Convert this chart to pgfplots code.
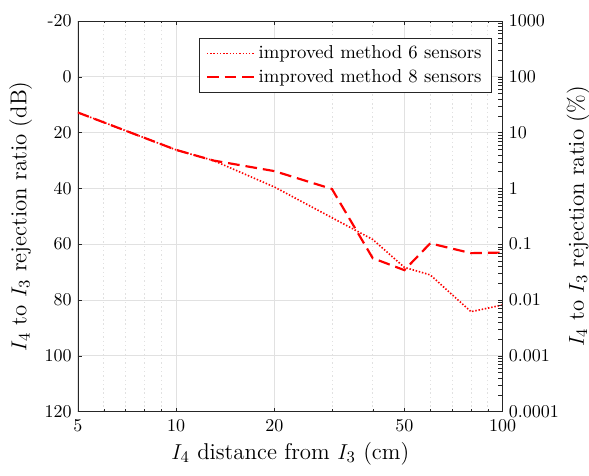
\documentclass[border=0pt]{standalone}
\usepackage{pgfplots}
\pgfplotsset{compat=1.18}
\definecolor{axc}{RGB}{38,38,38}
\definecolor{gridc}{RGB}{225,225,225}
\begin{document}
\begin{tikzpicture}
\begin{axis}[name=ax, scale only axis, width=236pt, height=217pt,
  xmode=log, xmin=5, xmax=100, ymin=-20, ymax=120, y dir=reverse,
  xtick={5,10,20,50,100}, xticklabels={5,10,20,50,100},
  minor xtick={6,7,8,9,30,40,60,70,80,90},
  ytick={-20,0,20,40,60,80,100,120},
  yticklabels={{\mbox{-}20},0,20,40,60,80,100,120},
  axis y line*=left,
  axis line style={axc}, tick style={axc},
  tick align=inside, major tick length=2.2pt, minor tick length=1.3pt,
  xmajorgrids, xminorgrids, ymajorgrids,
  major grid style={gridc, line width=0.5pt},
  minor grid style={gridc, line width=0.4pt, dash pattern=on 0.8pt off 1.6pt},
  xticklabel style={yshift=-0.8pt},
  xlabel={$I_4$ distance from $I_3$ (cm)},
  ylabel={$I_4$ to $I_3$ rejection ratio (dB)},
  label style={font=\fontsize{12.7}{15}\selectfont},
  xlabel style={yshift=1pt},
  legend style={at={(1,1)}, anchor=north east, xshift=-6pt, yshift=-9.5pt,
    draw=axc, inner ysep=2pt, inner xsep=3.5pt, row sep=0.5pt, font=\fontsize{10.4}{13}\selectfont},
  legend cell align=left,
  legend image code/.code={\draw[#1] (0cm,0cm) -- (0.92cm,0cm);},
]
\addplot[red, line width=0.9pt, dash pattern=on 0.8pt off 1.0pt] coordinates {
(5,12.8)(10,26.2)(13,30)(20,39.5)(30,50.5)(40,58.3)(50,68.3)(60,71)(80,84.2)(100,81.8)};
\addlegendentry{improved method 6 sensors}
\addplot[red, line width=1.2pt, dash pattern=on 6.5pt off 3.3pt] coordinates {
(5,12.8)(10,26.2)(13,30)(20,33.8)(30,40.2)(40,65)(50,69.3)(60,59.7)(80,63.2)(100,63)};
\addlegendentry{improved method 8 sensors}
\end{axis}
\begin{axis}[scale only axis, width=236pt, height=217pt,
  xmode=log, xmin=5, xmax=100, ymode=log, ymin=1e-4, ymax=1000,
  axis y line*=right, axis x line=none,
  axis line style={axc}, tick style={axc},
  tick align=inside, major tick length=2.2pt,
  ytick={1e-4,1e-3,0.01,0.1,1,10,100,1000},
  yticklabels={0.0001,0.001,0.01,0.1,1,10,100,1000},
  minor ytick={},
  ylabel={$I_4$ to $I_3$ rejection ratio (\%)},
  ylabel shift=-2.5pt,
  label style={font=\fontsize{12.7}{15}\selectfont},
]
\addplot[draw=none] coordinates {(5,1)(100,1)};
\end{axis}
\pgfresetboundingbox
\useasboundingbox ([shift={(-43.3pt,-35.5pt)}]ax.south west) rectangle ([shift={(48pt,11.7pt)}]ax.north east);
\end{tikzpicture}
\end{document}
